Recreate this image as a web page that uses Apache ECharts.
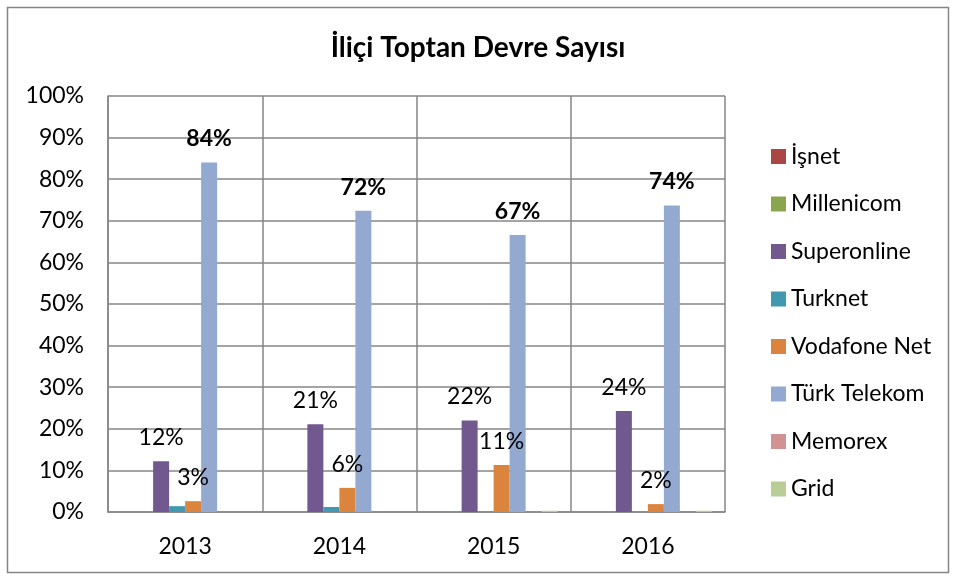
<!DOCTYPE html>
<html>
<head>
<meta charset="utf-8">
<script src="https://cdn.jsdelivr.net/npm/echarts@6/dist/echarts.min.js"></script>
<style>
  html, body { margin: 0; padding: 0; background: #fff; }
  #chart { width: 956px; height: 581px; }
</style>
</head>
<body>
<div id="chart"></div>
<script>
var years = ["2013", "2014", "2015", "2016"];
var seriesNames = ["İşnet", "Millenicom", "Superonline", "Turknet", "Vodafone Net", "Türk Telekom", "Memorex", "Grid"];

var isnet = [0, 0, 0, 0];
var millenicom = [0, 0, 0, 0];
var superonline = [12.2, 21.1, 22.0, 24.3];
var turknet = [1.4, 1.2, 0, 0];
var vodafone = [2.6, 5.8, 11.3, 1.9];
var turkTelekom = [84.0, 72.4, 66.6, 73.7];
var memorex = [0, 0, 0, 0];
var grid = [0, 0, 0.3, 0.3];

var yTicks = [0, 10, 20, 30, 40, 50, 60, 70, 80, 90, 100];

var colors = ["#AA4643", "#89A54E", "#71588F", "#4198AF", "#DB843D", "#93A9CF", "#D19392", "#B9CD96"];
var font = "Lato, 'Open Sans', sans-serif";

function pctLabel(bold) {
    return {
        show: true,
        position: "top",
        distance: 12,
        fontFamily: font,
        fontSize: 23,
        color: "#000",
        fontWeight: bold ? "bold" : "normal",
        formatter: function (p) { return Math.round(p.value) + "%"; }
    };
}

var allData = [isnet, millenicom, superonline, turknet, vodafone, turkTelekom, memorex, grid];
var series = [];
for (var i = 0; i < seriesNames.length; i++) {
    var s = {
        name: seriesNames[i],
        type: "bar",
        data: allData[i],
        barGap: "0%",
        barCategoryGap: "17%",
        itemStyle: { color: colors[i] }
    };
    if (seriesNames[i] == "Superonline" || seriesNames[i] == "Vodafone Net") s.label = pctLabel(false);
    if (seriesNames[i] == "Türk Telekom") s.label = pctLabel(true);
    series.push(s);
}

var myChart = echarts.init(document.getElementById("chart"));
var option = {
    animation: false,
    title: {
        text: "İliçi Toptan Devre Sayısı",
        left: "center",
        top: 29,
        textStyle: { fontFamily: font, fontSize: 28, fontWeight: "bold", color: "#000" }
    },
    graphic: [{
        type: "rect",
        shape: { x: 7.5, y: 7.5, width: 941, height: 565 },
        style: { fill: "none", stroke: "#868686", lineWidth: 1.5 }
    }],
    legend: {
        orient: "vertical",
        left: 766,
        top: 140,
        itemWidth: 15,
        itemHeight: 15,
        itemGap: 24.5,
        icon: "rect",
        textStyle: { fontFamily: font, fontSize: 23, color: "#000" },
        data: seriesNames
    },
    grid: { left: 108, right: 231, top: 96, bottom: 69 },
    xAxis: {
        type: "category",
        data: years,
        axisLine: { show: true, lineStyle: { color: "#868686", width: 1.5 } },
        axisTick: { show: false },
        splitLine: { show: true, lineStyle: { color: "#868686", width: 1.5 } },
        axisLabel: { fontFamily: font, fontSize: 23, color: "#000", margin: 23 }
    },
    yAxis: {
        type: "value",
        min: yTicks[0],
        max: yTicks[yTicks.length - 1],
        interval: 10,
        axisLine: { show: true, lineStyle: { color: "#868686", width: 1.5 } },
        axisTick: { show: false },
        splitLine: { show: true, lineStyle: { color: "#868686", width: 1.5 } },
        axisLabel: { fontFamily: font, fontSize: 23, color: "#000", margin: 24, formatter: "{value}%" }
    },
    series: series
};
myChart.setOption(option);
</script>
</body>
</html>
